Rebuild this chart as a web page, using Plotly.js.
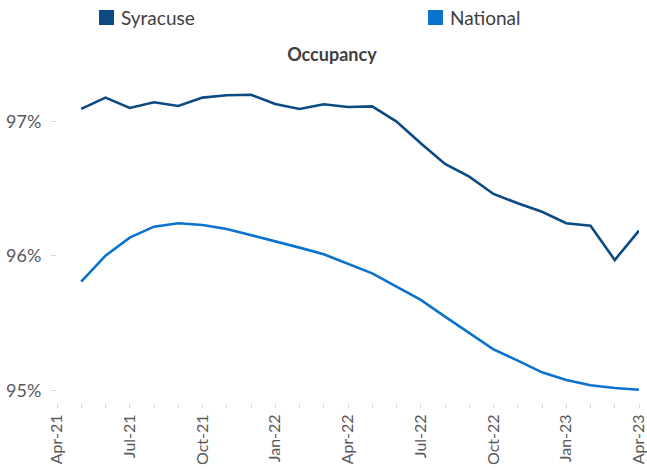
<!DOCTYPE html>
<html>
<head>
<meta charset="utf-8">
<script src="https://cdn.plot.ly/plotly-3.0.1.min.js"></script>
<style>html,body{margin:0;padding:0;background:#fff;}#chart{width:647px;height:475px;}</style>
</head>
<body>
<div id="chart"></div>
<script>
// Axis categories (monthly, Apr-21 .. Apr-23)
var axisMonths = ["Apr-21","May-21","Jun-21","Jul-21","Aug-21","Sep-21","Oct-21","Nov-21","Dec-21",
  "Jan-22","Feb-22","Mar-22","Apr-22","May-22","Jun-22","Jul-22","Aug-22","Sep-22","Oct-22","Nov-22","Dec-22",
  "Jan-23","Feb-23","Mar-23","Apr-23"];
// Labelled quarter ticks
var tickLabels = ["Apr-21","Jul-21","Oct-21","Jan-22","Apr-22","Jul-22","Oct-22","Jan-23","Apr-23"];
// Months with data
var dataMonths = axisMonths.slice(1);
// Occupancy, percent
var syracuse = [97.093, 97.177, 97.100, 97.143, 97.115, 97.177, 97.195, 97.199, 97.130, 97.093, 97.128, 97.108,
  97.112, 96.999, 96.838, 96.684, 96.590, 96.461, 96.392, 96.329, 96.243, 96.225, 95.970, 96.188];
var national = [95.809, 96.002, 96.136, 96.218, 96.243, 96.230, 96.201, 96.156, 96.112, 96.062, 96.013, 95.943,
  95.871, 95.772, 95.673, 95.549, 95.425, 95.306, 95.222, 95.135, 95.078, 95.039, 95.019, 95.006];
var yTicks = [95, 96, 97];
var seriesNames = ["Syracuse", "National"];

var colors = ["#0B4A82", "#0A72CF"];
var font = "Lato, 'Open Sans', sans-serif";

var traces = [
  {x: dataMonths, y: syracuse, name: seriesNames[0], type: "scatter", mode: "lines",
   line: {color: colors[0], width: 2.6}, showlegend: false},
  {x: dataMonths, y: national, name: seriesNames[1], type: "scatter", mode: "lines",
   line: {color: colors[1], width: 2.6}, showlegend: false}
];

var L = 57, T = 85, PW = 582, PH = 318;
layout = {
  width: 647, height: 475,
  margin: {l: L, r: 647 - L - PW, t: T, b: 475 - T - PH},
  paper_bgcolor: "#fff", plot_bgcolor: "#fff",
  font: {family: font, color: "#595959", size: 18},
  title: {text: "<b>Occupancy</b>", x: 0.513, xref: "container", y: 1 - 55/475, yanchor: "middle",
          font: {family: font, size: 18, color: "#404040"}},
  xaxis: {
    type: "category", categoryorder: "array", categoryarray: axisMonths,
    range: [0, axisMonths.length - 1],
    tickmode: "array", tickvals: axisMonths,
    ticktext: axisMonths.map(function(m){ return tickLabels.indexOf(m) >= 0 ? m : ""; }),
    tickangle: -90, ticks: "outside", ticklen: 4, tickcolor: "#d9d9d9",
    showline: false, showgrid: false, zeroline: false,
    tickfont: {family: font, size: 16, color: "#595959"}
  },
  yaxis: {
    range: [94.907, 97.271],
    tickmode: "array", tickvals: yTicks, ticktext: yTicks.map(function(v){ return v + "%"; }),
    ticks: "outside", ticklen: 5, tickcolor: "#d9d9d9", ticklabelstandoff: 6,
    showline: false, showgrid: false, zeroline: false,
    tickfont: {family: font, size: 18, color: "#595959"}
  },
  shapes: [
    {type: "rect", xref: "paper", yref: "paper", x0: (99-L)/PW, x1: (114-L)/PW,
     y0: 1 + (T-25)/PH, y1: 1 + (T-10)/PH, fillcolor: colors[0], line: {width: 0}},
    {type: "rect", xref: "paper", yref: "paper", x0: (428-L)/PW, x1: (443-L)/PW,
     y0: 1 + (T-25)/PH, y1: 1 + (T-10)/PH, fillcolor: colors[1], line: {width: 0}}
  ],
  annotations: [
    {text: seriesNames[0], xref: "paper", yref: "paper", x: (119-L)/PW, y: 1 + (T-17.5)/PH,
     xanchor: "left", yanchor: "middle", showarrow: false, font: {family: font, size: 19, color: "#404040"}},
    {text: seriesNames[1], xref: "paper", yref: "paper", x: (448-L)/PW, y: 1 + (T-17.5)/PH,
     xanchor: "left", yanchor: "middle", showarrow: false, font: {family: font, size: 19, color: "#404040"}}
  ]
};

Plotly.newPlot("chart", traces, layout, {displayModeBar: false, staticPlot: true});
</script>
</body>
</html>
